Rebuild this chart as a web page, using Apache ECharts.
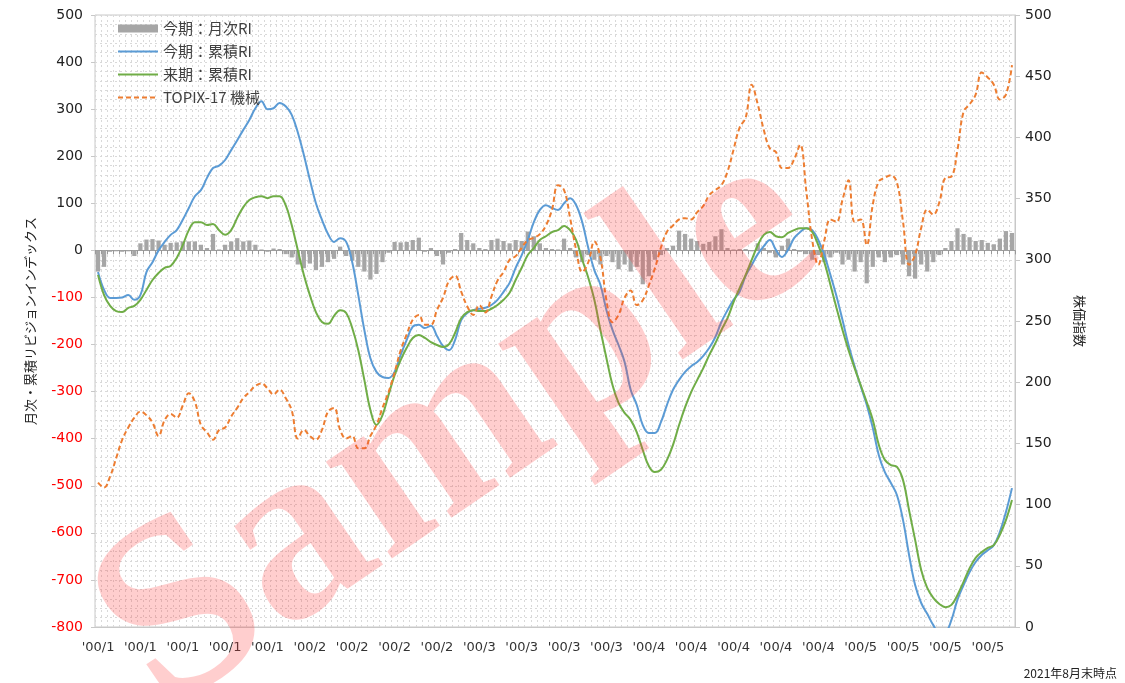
<!DOCTYPE html>
<html>
<head>
<meta charset="utf-8">
<script src="https://cdn.jsdelivr.net/npm/echarts@6/dist/echarts.min.js"></script>
<style>
  html, body { margin: 0; padding: 0; background: #fff; }
  #main { width: 1125px; height: 683px; }
</style>
</head>
<body>
<div id="main"></div>
<script>
// 月次カテゴリ（2009/01〜2021/08）
const months = [];
for (let y = 2009; y <= 2021; y++) {
  for (let m = 1; m <= 12; m++) {
    if (y === 2021 && m > 8) break;
    months.push(y + '/' + (m < 10 ? '0' + m : m));
  }
}

// 軸ラベル（7か月ごと）
const tickLabels = [
  "'00/1", "'00/1", "'00/1", "'00/1", "'00/1",
  "'00/2", "'00/2", "'00/2", "'00/2",
  "'00/3", "'00/3", "'00/3", "'00/3",
  "'00/4", "'00/4", "'00/4", "'00/4", "'00/4",
  "'00/5", "'00/5", "'00/5", "'00/5"
];

// 今期：月次RI
const monthlyRI = [
  -45, -35, -3, -2, -3, -2, -12, 15, 23, 24,
  21, 12, 16, 17, 19, 19, 19, 12, 5, 35,
  2, 12, 19, 26, 19, 21, 12, 2, -3, 4,
  3, -8, -15, -30, -38, -28, -42, -35, -25, -18,
  8, -12, -22, -35, -45, -62, -50, -25, -5, 18,
  17, 18, 22, 27, -3, 5, -12, -30, -5, 3,
  37, 22, 15, 5, 3, 22, 25, 20, 15, 22,
  20, 40, 30, 15, 5, 3, 2, 25, 5, -15,
  -25, -10, -20, -30, -12, -25, -40, -30, -45, -35,
  -72, -55, -20, -10, 5, 10, 42, 35, 25, 20,
  14, 18, 30, 45, 5, 2, 3, 3, -2, 15,
  5, -5, -15, 10, 25, 3, -3, -8, -20, -10,
  -25, -15, -5, -30, -20, -45, -25, -70, -35, -15,
  -25, -15, -10, -30, -55, -60, -30, -45, -25, -10,
  5, 20, 47, 35, 28, 20, 22, 16, 13, 25,
  41, 37
];

// 今期：累積RI
const cumRI = [
  -46, -84, -101, -101, -100, -95, -105, -95, -46, -25,
  0, 18, 33, 43, 65, 90, 115, 128, 154, 175,
  180, 192, 213, 234, 256, 277, 302, 317, 300, 302,
  313, 306, 288, 251, 203, 150, 100, 65, 35, 18,
  26, 18, -25, -95, -169, -229, -258, -269, -271, -258,
  -222, -190, -162, -158, -165, -160, -182, -203, -212, -190,
  -148, -133, -127, -124, -122, -116, -105, -88, -69, -37,
  -10, 22, 60, 86, 96, 90, 86, 100, 111, 96,
  60, 5, -42, -73, -127, -169, -201, -237, -296, -328,
  -371, -388, -388, -365, -328, -296, -275, -258, -246, -237,
  -224, -207, -184, -152, -127, -105, -88, -54, -31, -8,
  9, 22, 1, -14, 1, 26, 39, 47, 43, 22,
  -10, -52, -97, -148, -201, -246, -288, -328, -377, -435,
  -471, -494, -520, -573, -647, -711, -749, -772, -796, -813,
  -811, -785, -742, -711, -683, -662, -647, -637, -626, -598,
  -556, -505
];

// 来期：累積RI
const nextCumRI = [
  -52, -95, -118, -129, -131, -122, -118, -105, -84, -63,
  -48, -37, -33, -16, 11, 43, 60, 60, 54, 56,
  43, 33, 43, 69, 92, 107, 113, 115, 111, 115,
  115, 96, 54, 1, -52, -95, -131, -152, -156, -139,
  -127, -133, -165, -212, -275, -339, -371, -350, -307, -265,
  -233, -207, -186, -180, -186, -195, -201, -205, -199, -175,
  -144, -131, -127, -129, -129, -124, -116, -105, -90, -63,
  -37, -10, 5, 22, 30, 39, 43, 52, 43, 22,
  -20, -58, -105, -169, -229, -286, -324, -345, -360, -386,
  -424, -458, -471, -466, -445, -413, -371, -333, -301, -275,
  -250, -222, -197, -169, -144, -110, -80, -52, -20, 11,
  33, 39, 30, 28, 37, 43, 47, 47, 39, 11,
  -25, -73, -122, -169, -212, -250, -286, -322, -360, -413,
  -445, -456, -460, -488, -552, -615, -679, -717, -738, -751,
  -758, -753, -732, -704, -675, -653, -641, -632, -626, -604,
  -573, -530
];

// TOPIX-17 機械（右軸）
const topix = [
  118, 114, 123, 138, 153, 163, 171, 176, 173, 167,
  156, 169, 174, 171, 181, 191, 184, 165, 159, 153,
  161, 163, 172, 179, 187, 192, 197, 199, 195, 190,
  194, 187, 177, 154, 161, 156, 153, 161, 176, 179,
  161, 154, 156, 146, 146, 156, 165, 179, 192, 208,
  226, 239, 251, 255, 247, 247, 259, 269, 283, 287,
  274, 262, 255, 263, 257, 270, 283, 290, 300, 303,
  310, 316, 318, 321, 328, 341, 361, 357, 334, 308,
  290, 298, 315, 302, 267, 249, 255, 269, 275, 263,
  267, 279, 293, 310, 323, 328, 333, 334, 333, 339,
  344, 353, 357, 361, 372, 390, 408, 416, 443, 427,
  406, 391, 388, 375, 375, 382, 394, 357, 316, 296,
  316, 333, 331, 349, 365, 331, 333, 312, 345, 364,
  367, 369, 363, 331, 296, 304, 326, 341, 337, 347,
  367, 368, 390, 421, 427, 435, 453, 449, 443, 431,
  435, 459
];

const gridColor = '#d9d9d9';
const cjk = '"Noto Sans CJK JP", "Liberation Sans", sans-serif';
// 折れ線の凡例は線だけ（丸を消す）
const lineOnly = { opacity: 0 };

let myChart = echarts.init(document.getElementById('main'));

let option = {
  animation: false,
  backgroundColor: '#fff',
  textStyle: { fontFamily: cjk },
  grid: {
    left: 95, right: 110, top: 15, bottom: 56,
    show: true, borderColor: '#c8c8c8', borderWidth: 1
  },
  legend: {
    orient: 'vertical',
    left: 112, top: 16,
    itemWidth: 40, itemHeight: 8, itemGap: 8,
    textStyle: { fontSize: 15, color: '#404040', fontFamily: cjk },
    data: [
      { name: '今期：月次RI', icon: 'rect' },
      { name: '今期：累積RI', itemStyle: lineOnly },
      { name: '来期：累積RI', itemStyle: lineOnly },
      { name: 'TOPIX-17 機械', itemStyle: lineOnly }
    ]
  },
  xAxis: [
    {
      type: 'category',
      data: months,
      position: 'bottom',
      axisLine: { onZero: false, lineStyle: { color: '#c8c8c8' } },
      axisTick: { show: false },
      axisLabel: {
        interval: 6,
        margin: 14,
        fontSize: 13,
        color: '#333',
        fontFamily: '"DejaVu Sans", sans-serif',
        formatter: (v, i) => tickLabels[Math.round(i / 7)] || ''
      },
      splitLine: {
        show: true, interval: 0,
        lineStyle: { color: gridColor, type: [2, 3] }
      }
    },
    {
      type: 'category',
      data: months,
      position: 'bottom',
      axisLine: { onZero: true, onZeroAxisIndex: 0, lineStyle: { color: '#999' } },
      axisTick: { show: true, interval: 0, length: 4, lineStyle: { color: '#999' } },
      axisLabel: { show: false },
      splitLine: { show: false }
    }
  ],
  yAxis: [
    {
      type: 'value',
      min: -800, max: 500, interval: 100,
      name: '月次・累積リビジョンインデックス',
      nameLocation: 'middle',
      nameRotate: 90,
      nameGap: 58,
      nameTextStyle: { fontSize: 13, color: '#222', fontFamily: cjk },
      axisLine: { show: false },
      axisTick: { show: true, length: 4, lineStyle: { color: '#c8c8c8' } },
      axisLabel: {
        fontSize: 14,
        margin: 12,
        fontFamily: '"DejaVu Sans", sans-serif',
        color: v => (v < 0 ? '#ff0000' : '#222')
      },
      splitLine: { show: true, lineStyle: { color: gridColor, type: [2, 3] } },
      minorSplitLine: { show: true, lineStyle: { color: gridColor, type: [2, 3] } },
      minorTick: { show: false, splitNumber: 5 }
    },
    {
      type: 'value',
      min: 0, max: 500, interval: 50,
      name: '株価指数',
      nameLocation: 'middle',
      nameRotate: -90,
      nameGap: 58,
      nameTextStyle: { fontSize: 13, color: '#222', fontFamily: cjk },
      axisLine: { show: true, lineStyle: { color: '#c8c8c8' } },
      axisTick: { show: true, length: 5, lineStyle: { color: '#c8c8c8' } },
      axisLabel: {
        fontSize: 14,
        margin: 10,
        color: '#222',
        fontFamily: '"DejaVu Sans", sans-serif'
      },
      splitLine: { show: false }
    }
  ],
  series: [
    {
      name: '今期：月次RI',
      type: 'bar',
      data: monthlyRI,
      barCategoryGap: '30%',
      itemStyle: { color: '#a6a6a6' }
    },
    {
      name: '今期：累積RI',
      type: 'line',
      data: cumRI,
      smooth: 0.4,
      symbol: 'none',
      lineStyle: { color: '#5b9bd5', width: 2 },
      itemStyle: { color: '#5b9bd5' }
    },
    {
      name: '来期：累積RI',
      type: 'line',
      data: nextCumRI,
      smooth: 0.4,
      symbol: 'none',
      lineStyle: { color: '#70ad47', width: 2 },
      itemStyle: { color: '#70ad47' }
    },
    {
      name: 'TOPIX-17 機械',
      type: 'line',
      yAxisIndex: 1,
      data: topix,
      smooth: 0.4,
      symbol: 'none',
      lineStyle: { color: '#ed7d31', width: 2, type: [5, 3] },
      itemStyle: { color: '#ed7d31' }
    }
  ],
  graphic: [
    {
      type: 'text',
      right: 8, bottom: 4,
      style: { text: '2021年8月末時点', font: '12px "Noto Sans CJK JP"', fill: '#222' }
    },
    {
      type: 'text',
      x: 460, y: 432,
      rotation: 0.6,
      z: 100,
      silent: true,
      style: {
        text: 'Sample',
        font: 'bold 255px "Liberation Serif"',
        fill: 'rgba(255, 60, 60, 0.25)',
        align: 'center',
        verticalAlign: 'middle'
      }
    }
  ]
};

myChart.setOption(option);
</script>
</body>
</html>
